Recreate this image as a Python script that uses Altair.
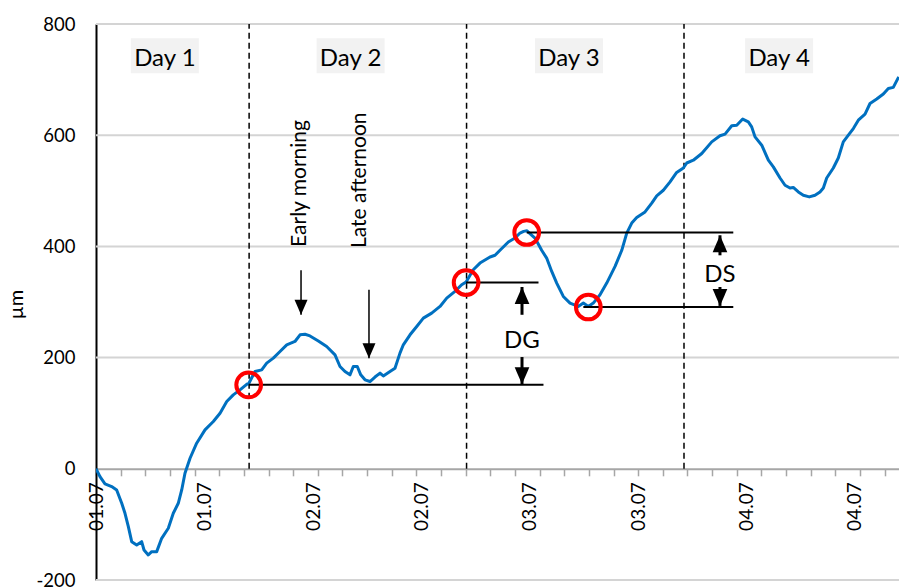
import json

import altair as alt
import pandas as pd

# Stem diameter variation: time in hours since 01.07 00:00, change in µm
hours = [
    7.10, 7.54, 8.09, 8.83, 9.38, 9.94, 10.30, 10.67, 11.04, 11.59, 12.14, 12.40,
    12.87, 13.25, 13.80, 14.35, 15.08, 15.63, 16.18, 16.56, 16.92, 17.48, 18.21,
    19.13, 20.05, 20.79, 21.53, 22.25, 22.99, 23.73, 23.95, 24.65, 25.39, 25.94,
    26.67, 27.41, 28.15, 29.06, 29.62, 30.17, 30.72, 31.64, 32.56, 33.48, 34.03,
    34.58, 35.13, 35.50, 35.94, 36.32, 36.79, 37.34, 37.89, 38.45, 38.81, 39.55,
    40.10, 40.65, 41.02, 41.76, 42.50, 43.23, 44.15, 45.07, 45.81, 46.72, 47.46,
    47.95, 48.74, 49.48, 50.59, 51.14, 51.69, 52.61, 53.35, 53.90, 54.30, 54.67,
    55.00, 55.55, 56.29, 56.84, 57.40, 57.95, 58.68, 59.42, 60.33, 60.89, 61.44,
    61.99, 62.73, 63.47, 64.39, 65.13, 65.68, 66.23, 66.78, 67.70, 68.44, 68.99,
    69.72, 70.46, 71.19, 71.93, 72.30, 73.03, 73.96, 75.06, 75.97, 76.53, 77.27,
    77.82, 78.48, 79.10, 79.47, 79.84, 80.58, 81.31, 81.86, 82.60, 83.15, 83.70,
    84.06, 84.62, 85.17, 85.83, 86.46, 87.01, 87.38, 87.75, 88.48, 89.03, 89.58,
    90.14, 90.69, 91.24, 91.98, 92.53, 93.27, 94.00, 94.55, 95.10, 95.70,
]
microns = [
    0, -14, -27, -32, -38, -62, -80, -104, -131, -137, -131, -146,
    -155, -149, -149, -125, -107, -80, -62, -38, -8, 19, 46,
    70, 85, 100, 121, 133, 142, 152, 153, 175, 178, 190,
    199, 211, 223, 229, 241, 242, 239, 230, 220, 205, 184,
    175, 169, 184, 184, 169, 160, 157, 165, 172, 167, 175,
    181, 208, 223, 241, 256, 271, 280, 292, 307, 319, 331,
    336, 358, 370, 381, 384, 393, 408, 415, 424, 427, 428,
    423, 415, 393, 379, 355, 334, 310, 298, 292, 298, 292,
    298, 313, 334, 364, 393, 424, 442, 452, 462, 478, 491,
    501, 516, 533, 541, 550, 555, 567, 588, 599, 602, 617,
    618, 629, 624, 615, 597, 582, 555, 543, 523, 510, 505,
    506, 498, 492, 489, 492, 498, 505, 523, 541, 559, 588,
    600, 612, 627, 638, 657, 665, 674, 684, 686, 705,
]

# Midnight boundaries between days
day_edges = [24, 48, 72]
day_names = ["Day 1", "Day 2", "Day 3", "Day 4"]
day_name_hours = [14.7, 35.2, 59.3, 82.5]
day_name_level = [743, 743, 743, 743]

# Date labels on the time axis
x_tick_labels = ["01.07", "01.07", "02.07", "02.07", "03.07", "03.07", "04.07", "04.07"]
x_label_hours = [7.18, 19.13, 31.08, 43.05, 55.0, 66.95, 78.9, 90.87]
x_minor_step = 2.72
y_ticks = [-200, 0, 200, 400, 600, 800]
y_grid = [-200, 200, 400, 600, 800]

# Highlighted points: start/end of daily growth (DG) and shrinkage (DS)
mark_hours = [23.95, 47.95, 54.64, 61.44]
mark_microns = [151, 335, 425, 291]

# Horizontal reference levels drawn from the highlighted points
ref_start = [23.95, 47.95, 54.64, 60.89]
ref_end = [56.49, 55.94, 77.44, 77.44]
ref_level = mark_microns

# Time-of-day notes with their arrows
note_texts = ["Early morning", "Late afternoon"]
note_hours = [30.28, 36.90]
note_level = [399, 397]
note_arrow_hours = [29.73, 37.23]
note_arrow_tail = [357, 322]
note_arrow_tip = [277, 199]

# DG / DS double arrows and their labels
gap_texts = ["DG", "DS"]
gap_hours = [54.12, 75.97]
gap_level = [235, 354]
gap_arrow_hours = [54.12, 54.12, 75.97, 75.97]
gap_arrow_tail = [277, 201, 384, 327]
gap_arrow_tip = [327, 152, 420, 293]
gap_arrow_dir = ["up", "down", "up", "down"]

FONT = "Lato"
X_DOMAIN = [7.1, 95.73]
Y_DOMAIN = [-200, 800]
W, H = 803, 556
ZERO_OFFSET = -H * (0 - Y_DOMAIN[0]) / (Y_DOMAIN[1] - Y_DOMAIN[0])

xs = alt.Scale(domain=X_DOMAIN, nice=False, zero=False)
ys = alt.Scale(domain=Y_DOMAIN, nice=False, zero=False)

minor_ticks = []
t = X_DOMAIN[0]
while t <= X_DOMAIN[1]:
    minor_ticks.append(round(t, 3))
    t += x_minor_step

series = pd.DataFrame({"h": hours, "v": microns})
grid = pd.DataFrame({"g": y_grid})
edges = pd.DataFrame({"h": day_edges, "lo": 0, "hi": 800})
days = pd.DataFrame({"h": day_name_hours, "v": day_name_level, "name": day_names})
marks = pd.DataFrame({"h": mark_hours, "v": mark_microns})
refs = pd.DataFrame({"h": ref_start, "h2": ref_end, "v": ref_level})
notes = pd.DataFrame({"h": note_hours, "v": note_level, "txt": note_texts})
note_arrows = pd.DataFrame({"h": note_arrow_hours, "v": note_arrow_tail, "v2": note_arrow_tip})
gaps = pd.DataFrame({"h": gap_hours, "v": gap_level, "txt": gap_texts})
gap_arrows = pd.DataFrame({"h": gap_arrow_hours, "v": gap_arrow_tail,
                           "v2": gap_arrow_tip, "dir": gap_arrow_dir})

label_expr = f"{json.dumps(x_tick_labels)}[indexof({json.dumps(x_label_hours)}, datum.value)]"

tick_axis = alt.Axis(
    orient="bottom", values=minor_ticks, labels=False, ticks=True, tickSize=7,
    tickColor="#a6a6a6", tickWidth=1.5, domainColor="#a6a6a6", domainWidth=2,
    grid=False, offset=ZERO_OFFSET, title=None,
)
label_axis = alt.Axis(
    orient="bottom", values=x_label_hours, labelExpr=label_expr, ticks=False,
    domain=False, grid=False, labelAngle=-90, labelFont=FONT, labelFontSize=19,
    labelColor="black", labelPadding=13, labelFlush=False, labelOverlap=False,
    offset=ZERO_OFFSET, title=None,
)
y_axis = alt.Axis(
    values=y_ticks, labelExpr="'' + datum.value", grid=False,
    domainColor="black", domainWidth=2, ticks=False, labelFont=FONT,
    labelFontSize=18.5, labelColor="black", labelPadding=21,
    title="µm", titleFont=FONT, titleFontSize=20, titleFontWeight="normal",
    titleColor="black", titleAngle=-90, titleX=-74, titleY=280,
    titleBaseline="alphabetic", titleAlign="center",
)

# Horizontal gridlines behind everything
grid_lines = alt.Chart(grid).mark_rule(color="#d4d4d4", strokeWidth=2).encode(
    x=alt.value(0),
    x2=alt.value(W),
    y=alt.Y("g:Q", scale=ys, axis=None),
)

line = alt.Chart(series).mark_line(
    color="#0070c0", strokeWidth=3, strokeJoin="round", clip=True
).encode(
    x=alt.X("h:Q", scale=xs, axis=tick_axis),
    y=alt.Y("v:Q", scale=ys, axis=y_axis),
)

day_lines = alt.Chart(edges).mark_rule(
    color="black", strokeDash=[6, 4], strokeWidth=1.5
).encode(
    x=alt.X("h:Q", scale=xs, axis=label_axis),
    y=alt.Y("lo:Q", scale=ys, axis=None),
    y2="hi:Q",
)

box_path = "M-1,-0.515L1,-0.515L1,0.515L-1,0.515Z"
day_boxes = alt.Chart(days).mark_point(
    shape=box_path, size=68 * 68, filled=True, fill="#f2f2f2", opacity=1, strokeWidth=0
).encode(
    x=alt.X("h:Q", scale=xs, axis=None),
    y=alt.Y("v:Q", scale=ys, axis=None),
)
day_text = alt.Chart(days).mark_text(
    font=FONT, fontSize=24, color="black", baseline="middle", align="center", dy=3
).encode(
    x=alt.X("h:Q", scale=xs, axis=None),
    y=alt.Y("v:Q", scale=ys, axis=None),
    text="name:N",
)

ref_lines = alt.Chart(refs).mark_rule(color="black", strokeWidth=2).encode(
    x=alt.X("h:Q", scale=xs, axis=None),
    x2="h2:Q",
    y=alt.Y("v:Q", scale=ys, axis=None),
)

circles = alt.Chart(marks).mark_point(
    shape="circle", size=610, filled=False, stroke="#ff0000", strokeWidth=4, opacity=1
).encode(
    x=alt.X("h:Q", scale=xs, axis=None),
    y=alt.Y("v:Q", scale=ys, axis=None),
)

note_text = alt.Chart(notes).mark_text(
    font=FONT, fontSize=21, color="black", angle=270, align="left", baseline="alphabetic"
).encode(
    x=alt.X("h:Q", scale=xs, axis=None),
    y=alt.Y("v:Q", scale=ys, axis=None),
    text="txt:N",
)

head_down = "M-0.433,-1L0.433,-1L0,0Z"
head_up = "M-0.433,1L0.433,1L0,0Z"

note_shafts = alt.Chart(note_arrows).mark_rule(color="black", strokeWidth=1.5).encode(
    x=alt.X("h:Q", scale=xs, axis=None),
    y=alt.Y("v:Q", scale=ys, axis=None),
    y2="v2:Q",
)
note_heads = alt.Chart(note_arrows).mark_point(
    shape=head_down, size=900, filled=True, fill="black", opacity=1, strokeWidth=0
).encode(
    x=alt.X("h:Q", scale=xs, axis=None),
    y=alt.Y("v2:Q", scale=ys, axis=None),
)

gap_shafts = alt.Chart(gap_arrows).mark_rule(color="black", strokeWidth=3).encode(
    x=alt.X("h:Q", scale=xs, axis=None),
    y=alt.Y("v:Q", scale=ys, axis=None),
    y2="v2:Q",
)
gap_heads = alt.Chart(gap_arrows).mark_point(
    size=1150, filled=True, fill="black", opacity=1, strokeWidth=0
).encode(
    x=alt.X("h:Q", scale=xs, axis=None),
    y=alt.Y("v2:Q", scale=ys, axis=None),
    shape=alt.Shape("dir:N", scale=alt.Scale(domain=["up", "down"], range=[head_up, head_down]),
                    legend=None),
)
gap_text = alt.Chart(gaps).mark_text(
    font=FONT, fontSize=24, color="black", baseline="middle", align="center", dy=3
).encode(
    x=alt.X("h:Q", scale=xs, axis=None),
    y=alt.Y("v:Q", scale=ys, axis=None),
    text="txt:N",
)

chart = alt.layer(
    grid_lines, day_lines, line, ref_lines, circles, day_boxes, day_text,
    note_text, note_shafts, note_heads, gap_shafts, gap_heads, gap_text,
).resolve_axis(
    x="independent", y="independent"
).properties(
    width=W, height=H, autosize="none",
    padding={"left": 96, "top": 24, "right": 0, "bottom": 7},
    background="white",
).configure_view(stroke=None)

chart.save("out.html", embed_options={"renderer": "svg", "actions": False})
